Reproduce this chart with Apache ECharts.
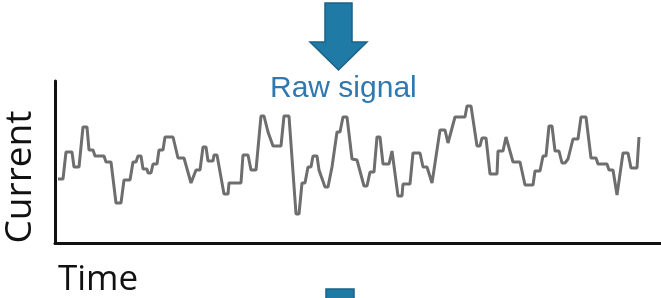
<!DOCTYPE html>
<html>
<head>
<meta charset="utf-8">
<script src="https://cdn.jsdelivr.net/npm/echarts@6/dist/echarts.min.js"></script>
<style>
    html, body { margin: 0; padding: 0; background: #fff; }
    #RawSignalChart { width: 661px; height: 298px; }
</style>
</head>
<body>
<div id="RawSignalChart"></div>
<script>
// time (arbitrary units) and current (arbitrary units)
var timeList = [3, 8, 11, 17, 19, 24, 28, 32, 34, 38, 40, 49, 51, 56, 61, 66, 69, 75, 78, 81,
    83, 86, 88, 92, 93, 96, 98, 102, 104, 108, 110, 118, 123, 129, 136, 138, 141, 145, 148, 151,
    153, 158, 159, 162, 169, 173, 174, 186, 188, 193, 196, 201, 206, 209, 213, 215, 218, 226, 229, 234,
    241, 244, 247, 250, 253, 256, 258, 262, 264, 266, 270, 273, 277, 279, 282, 285, 288, 292, 297, 302,
    309, 312, 315, 319, 322, 325, 328, 334, 337, 338, 343, 347, 348, 355, 358, 365, 368, 372, 377, 379,
    385, 390, 393, 395, 400, 410, 412, 416, 422, 425, 427, 431, 435, 442, 443, 448, 451, 453, 458, 465,
    470, 478, 480, 485, 488, 491, 494, 497, 500, 504, 507, 510, 513, 515, 518, 523, 526, 531, 536, 541,
    543, 552, 554, 558, 562, 564, 568, 573, 576, 582, 584];
var currentList = [64, 64, 91, 91, 76, 76, 116, 116, 93, 93, 87, 87, 81, 81, 40, 40, 63, 63, 81, 81,
    87, 87, 74, 74, 70, 70, 79, 79, 93, 93, 106, 106, 85, 85, 60, 60, 73, 73, 96, 96,
    82, 82, 88, 88, 49, 49, 60, 60, 88, 88, 73, 73, 127, 127, 111, 111, 97, 97, 127, 127,
    29, 29, 60, 60, 76, 76, 87, 87, 73, 73, 56, 56, 76, 76, 111, 111, 126, 126, 84, 83,
    57, 57, 71, 71, 106, 106, 79, 79, 92, 92, 47, 47, 59, 59, 90, 90, 76, 76, 60, 60,
    113, 113, 100, 100, 126, 126, 137, 137, 97, 97, 105, 105, 69, 69, 92, 92, 106, 106, 81, 81,
    58, 58, 72, 72, 87, 87, 117, 117, 92, 92, 80, 80, 84, 84, 104, 104, 126, 126, 85, 85,
    79, 79, 73, 73, 48, 48, 90, 90, 75, 75, 106];

var yLabel = 'Current';
var xLabel = 'Time';
var titleText = 'Raw signal';

init();

function init() {
    var myChart = echarts.init(document.getElementById('RawSignalChart'), null, { renderer: 'canvas' });
    var arrowFill = '#1f7aa6';
    var arrowLine = '#1b6288';
    var option = {
        animation: false,
        grid: {
            left: 55,
            right: 0,
            top: 81,
            bottom: 55
        },
        xAxis: {
            type: 'value',
            min: 0,
            max: 606,
            axisLine: { show: true, lineStyle: { color: '#111', width: 3 } },
            axisTick: { show: false },
            axisLabel: { show: false },
            splitLine: { show: false }
        },
        yAxis: {
            type: 'value',
            min: 0,
            max: 162,
            axisLine: { show: true, lineStyle: { color: '#111', width: 3 } },
            axisTick: { show: false },
            axisLabel: { show: false },
            splitLine: { show: false }
        },
        graphic: [
            {   // top arrow
                type: 'polygon',
                shape: {
                    points: [[325, 3], [352, 3], [352, 42], [367, 42], [338.5, 70], [310, 42], [325, 42]]
                },
                style: { fill: arrowFill, stroke: arrowLine, lineWidth: 1.5 }
            },
            {   // arrow continuing below
                type: 'polygon',
                shape: {
                    points: [[326, 289], [354, 289], [354, 300], [326, 300]]
                },
                style: { fill: arrowFill, stroke: arrowLine, lineWidth: 1.5 }
            },
            {
                type: 'text',
                left: 270,
                top: 74,
                style: {
                    text: titleText,
                    fill: '#2f78b0',
                    font: '30px "Liberation Sans", Arial, sans-serif'
                }
            },
            {
                type: 'text',
                x: 20,
                y: 177,
                rotation: Math.PI / 2,
                style: {
                    text: yLabel,
                    fill: '#111',
                    font: '37px "Open Sans", sans-serif',
                    align: 'center',
                    verticalAlign: 'middle'
                }
            },
            {
                type: 'text',
                left: 58,
                top: 263,
                style: {
                    text: xLabel,
                    fill: '#111',
                    font: '35px "Open Sans", sans-serif'
                }
            }
        ],
        series: [
            {
                name: 'Raw signal',
                type: 'line',
                data: GetLineData(timeList, currentList),
                showSymbol: false,
                symbol: 'none',
                lineStyle: { color: '#6e6e6e', width: 3 },
                z: 3
            }
        ]
    };
    myChart.setOption(option);
}

function GetLineData(xs, ys) {
    var Ret = [];
    for (var i = 0; i < xs.length; i++) {
        Ret.push([xs[i], ys[i]]);
    }
    return Ret;
}
</script>
</body>
</html>
